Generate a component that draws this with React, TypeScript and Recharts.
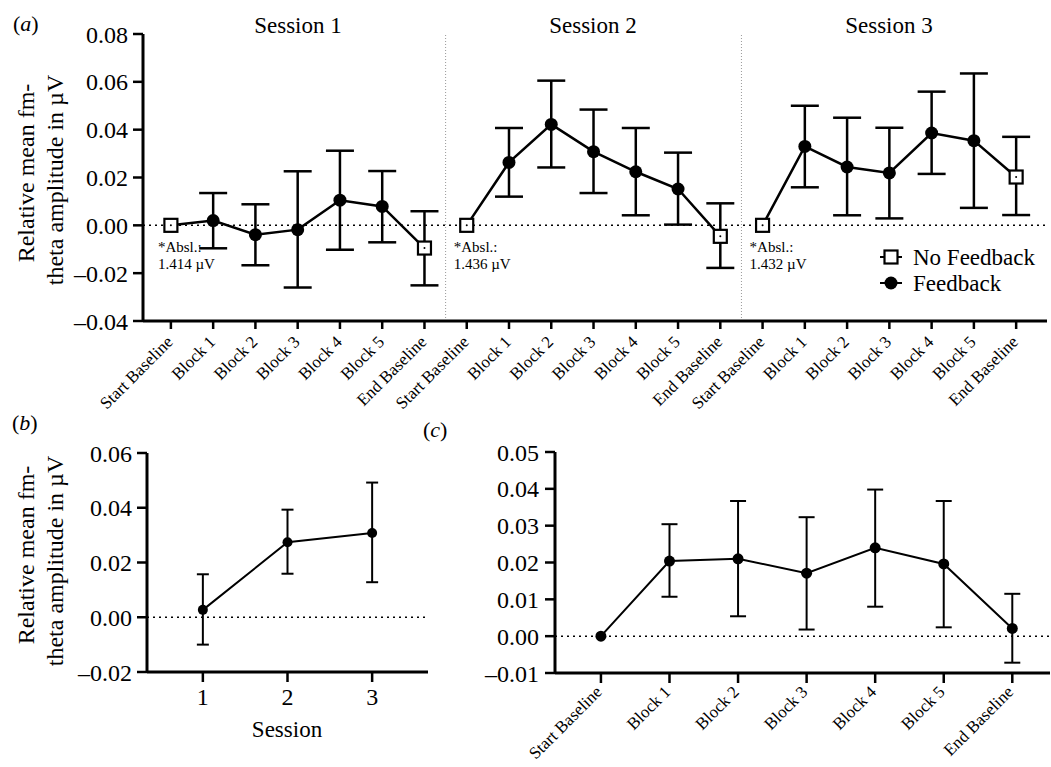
import React from 'react';
import { LineChart, Line, XAxis, YAxis, ReferenceLine, ErrorBar } from 'recharts';

const FONT = '"Liberation Serif", "Times New Roman", serif';

// x categories
const phaseLabels = ['Start Baseline', 'Block 1', 'Block 2', 'Block 3', 'Block 4', 'Block 5', 'End Baseline'];
const sessionNames = ['Session 1', 'Session 2', 'Session 3'];
const abslValues = ['1.414 µV', '1.436 µV', '1.432 µV'];

// panel (a): per session means and error bar ends
const s1Mean = [0, 0.002, -0.0039, -0.0018, 0.0105, 0.0079, -0.0095];
const s1Upper = [null, 0.0135, 0.0088, 0.0226, 0.0312, 0.0227, 0.0059];
const s1Lower = [null, -0.0096, -0.0167, -0.026, -0.0102, -0.0071, -0.0251];

const s2Mean = [0, 0.0263, 0.0422, 0.0308, 0.0224, 0.0152, -0.0046];
const s2Upper = [null, 0.0407, 0.0605, 0.0484, 0.0407, 0.0304, 0.0092];
const s2Lower = [null, 0.012, 0.0242, 0.0135, 0.0042, 0.0003, -0.0178];

const s3Mean = [0, 0.033, 0.0244, 0.0219, 0.0386, 0.0354, 0.0202];
const s3Upper = [null, 0.05, 0.045, 0.0408, 0.0559, 0.0635, 0.037];
const s3Lower = [null, 0.0159, 0.0042, 0.0029, 0.0215, 0.0073, 0.0043];

// panel (b): mean per session
const sessionTicks = [1, 2, 3];
const bMean = [0.0027, 0.0274, 0.0308];
const bUpper = [0.0157, 0.0393, 0.0492];
const bLower = [-0.01, 0.0159, 0.0128];

// panel (c): mean over sessions per phase
const cMean = [0, 0.0204, 0.021, 0.0171, 0.024, 0.0196, 0.0021];
const cUpper = [null, 0.0304, 0.0367, 0.0323, 0.0398, 0.0367, 0.0115];
const cLower = [null, 0.0107, 0.0054, 0.0018, 0.008, 0.0024, -0.0072];

const yTicksA = [-0.04, -0.02, 0, 0.02, 0.04, 0.06, 0.08];
const yTicksB = [-0.02, 0, 0.02, 0.04, 0.06];
const yTicksC = [-0.01, 0, 0.01, 0.02, 0.03, 0.04, 0.05];

const means = [s1Mean, s2Mean, s3Mean];
const uppers = [s1Upper, s2Upper, s3Upper];
const lowers = [s1Lower, s2Lower, s3Lower];

const errOf = (m: number, up: number | null, lo: number | null) =>
  up == null || lo == null ? null : [m - lo, up - m];

const dataA = means.flatMap((ms, s) =>
  ms.map((m, p) => {
    const row: any = { x: s * 7 + p, p, s };
    row[`m${s}`] = m;
    row[`e${s}`] = errOf(m, uppers[s][p], lowers[s][p]);
    return row;
  })
);
const labelsA = dataA.map((d) => phaseLabels[d.p]);
const ticksA = dataA.map((d) => d.x);

const dataB = sessionTicks.map((x, i) => ({ x, m: bMean[i], e: errOf(bMean[i], bUpper[i], bLower[i]) }));
const dataC = phaseLabels.map((_, i) => ({ x: i, m: cMean[i], e: errOf(cMean[i], cUpper[i], cLower[i]) }));
const ticksC = dataC.map((d) => d.x);

const fmtY = (v: number) => (v < -1e-9 ? '–' : '') + Math.abs(v).toFixed(2);

const rotTick = (fontSize: number, dx: number, dy: number, labels: string[]) => (props: any) => {
  const { x, y, payload } = props;
  return (
    <g transform={`translate(${x + dx},${y + dy}) rotate(-45)`}>
      <text textAnchor="end" fontSize={fontSize} fontFamily={FONT} fill="#000">
        {labels[payload.value]}
      </text>
    </g>
  );
};

const dotA = (props: any) => {
  const { cx, cy, payload, index, value } = props;
  if (cx == null || cy == null || value == null) return <g key={`d-${index}`} />;
  const isBase = payload.p === 0 || payload.p === 6;
  if (!isBase) return <circle key={`d-${index}`} cx={cx} cy={cy} r={6.5} fill="#000" />;
  return (
    <g key={`d-${index}`}>
      <rect x={cx - 6.5} y={cy - 6.5} width={13} height={13} fill="#fff" stroke="#000" strokeWidth={2.2} />
      <circle cx={cx} cy={cy} r={1} fill="#000" />
      {payload.p === 0 && (
        <text x={cx - 13} y={cy + 27} fontSize={15} fontFamily={FONT} fill="#000">
          <tspan x={cx - 13}>*Absl.:</tspan>
          <tspan x={cx - 13} dy={17}>{abslValues[payload.s]}</tspan>
        </text>
      )}
    </g>
  );
};

const yTickStyle = { fontSize: 24, fontFamily: FONT, fill: '#000' };
const axisLine = { stroke: '#000', strokeWidth: 3 };
const tickLine = { stroke: '#000', strokeWidth: 2.5 };

const App: React.FC = () => {
  return (
    <div style={{ position: 'absolute', left: 0, top: 0, width: 1051, height: 767, background: '#fff' }}>
      {/* (a) */}
      <div style={{ position: 'absolute', left: 0, top: 0 }}>
        <LineChart width={1051} height={420} data={dataA} margin={{ top: 34, right: 4, left: 0, bottom: 0 }}>
          <XAxis
            type="number"
            dataKey="x"
            domain={[-0.66, 20.73]}
            ticks={ticksA}
            interval={0}
            allowDataOverflow
            height={99}
            tickSize={8}
            tickMargin={2}
            axisLine={axisLine}
            tickLine={tickLine}
            tick={rotTick(17, 3, 12, labelsA)}
          />
          <YAxis
            domain={[-0.04, 0.08]}
            ticks={yTicksA}
            width={143}
            tickSize={10}
            tickMargin={5}
            tickFormatter={fmtY}
            axisLine={axisLine}
            tickLine={tickLine}
            tick={yTickStyle}
            allowDataOverflow
          />
          <ReferenceLine y={0} stroke="#000" strokeWidth={1.5} strokeDasharray="2 4" />
          <ReferenceLine x={6.5} stroke="#999" strokeWidth={1} strokeDasharray="1 2" />
          <ReferenceLine x={13.5} stroke="#999" strokeWidth={1} strokeDasharray="1 2" />
          {[0, 1, 2].map((s) => (
            <Line
              key={s}
              dataKey={`m${s}`}
              stroke="#000"
              strokeWidth={2.5}
              dot={dotA}
              activeDot={false}
              isAnimationActive={false}
            >
              <ErrorBar dataKey={`e${s}`} direction="y" width={14} stroke="#000" strokeWidth={2.5} isAnimationActive={false} />
            </Line>
          ))}
        </LineChart>
      </div>

      {/* (b) */}
      <div style={{ position: 'absolute', left: 0, top: 400 }}>
        <LineChart width={440} height={367} data={dataB} margin={{ top: 53, right: 12, left: 0, bottom: 0 }}>
          <XAxis
            type="number"
            dataKey="x"
            domain={[0.34, 3.66]}
            ticks={sessionTicks}
            interval={0}
            height={95}
            tickSize={10}
            tickMargin={6}
            axisLine={axisLine}
            tickLine={tickLine}
            tick={yTickStyle}
          />
          <YAxis
            domain={[-0.02, 0.06]}
            ticks={yTicksB}
            width={147}
            tickSize={10}
            tickMargin={5}
            tickFormatter={fmtY}
            axisLine={axisLine}
            tickLine={tickLine}
            tick={yTickStyle}
            allowDataOverflow
          />
          <ReferenceLine y={0} stroke="#000" strokeWidth={1.5} strokeDasharray="2 4" />
          <Line
            dataKey="m"
            stroke="#000"
            strokeWidth={2}
            dot={{ r: 5, fill: '#000', stroke: '#000', strokeWidth: 0 }}
            activeDot={false}
            isAnimationActive={false}
          >
            <ErrorBar dataKey="e" direction="y" width={6} stroke="#000" strokeWidth={2} isAnimationActive={false} />
          </Line>
        </LineChart>
      </div>

      {/* (c) */}
      <div style={{ position: 'absolute', left: 400, top: 400 }}>
        <LineChart width={651} height={367} data={dataC} margin={{ top: 52, right: 1, left: 0, bottom: 0 }}>
          <XAxis
            type="number"
            dataKey="x"
            domain={[-0.67, 6.55]}
            ticks={ticksC}
            interval={0}
            allowDataOverflow
            height={94}
            tickSize={10}
            tickMargin={2}
            axisLine={axisLine}
            tickLine={tickLine}
            tick={rotTick(17, 2, 8, phaseLabels)}
          />
          <YAxis
            domain={[-0.01, 0.05]}
            ticks={yTicksC}
            width={155}
            tickSize={10}
            tickMargin={6}
            tickFormatter={fmtY}
            axisLine={axisLine}
            tickLine={tickLine}
            tick={yTickStyle}
            allowDataOverflow
          />
          <ReferenceLine y={0} stroke="#000" strokeWidth={1.5} strokeDasharray="2 4" />
          <Line
            dataKey="m"
            stroke="#000"
            strokeWidth={2}
            dot={{ r: 5.5, fill: '#000', stroke: '#000', strokeWidth: 0 }}
            activeDot={false}
            isAnimationActive={false}
          >
            <ErrorBar dataKey="e" direction="y" width={8} stroke="#000" strokeWidth={2} isAnimationActive={false} />
          </Line>
        </LineChart>
      </div>

      {/* titles, panel letters, axis titles, legend */}
      <svg
        width={1051}
        height={767}
        style={{ position: 'absolute', left: 0, top: 0, pointerEvents: 'none' }}
        fontFamily={FONT}
        fill="#000"
      >
        <text x={13} y={31} fontSize={22}>
          (<tspan fontStyle="italic">a</tspan>)
        </text>
        <text x={12} y={430} fontSize={22}>
          (<tspan fontStyle="italic">b</tspan>)
        </text>
        <text x={423} y={437} fontSize={22}>
          (<tspan fontStyle="italic">c</tspan>)
        </text>

        {sessionNames.map((name, i) => (
          <text key={name} x={[298, 593, 889][i]} y={33} fontSize={23} textAnchor="middle">
            {name}
          </text>
        ))}

        <text transform="translate(34,173) rotate(-90)" textAnchor="middle" fontSize={24}>
          Relative mean fm-
        </text>
        <text transform="translate(63,180) rotate(-90)" textAnchor="middle" fontSize={24}>
          theta amplitude in µV
        </text>
        <text transform="translate(34,555) rotate(-90)" textAnchor="middle" fontSize={24}>
          Relative mean fm-
        </text>
        <text transform="translate(63,561) rotate(-90)" textAnchor="middle" fontSize={24}>
          theta amplitude in µV
        </text>

        <text x={287} y={737} fontSize={23} textAnchor="middle">
          Session
        </text>

        <line x1={880} x2={902} y1={257} y2={257} stroke="#000" strokeWidth={2} />
        <rect x={884.5} y={250.5} width={13} height={13} fill="#fff" stroke="#000" strokeWidth={2.2} />
        <text x={913} y={265} fontSize={23}>
          No Feedback
        </text>
        <line x1={880} x2={902} y1={283} y2={283} stroke="#000" strokeWidth={2} />
        <circle cx={891} cy={283} r={6.5} fill="#000" />
        <text x={913} y={291} fontSize={23}>
          Feedback
        </text>
      </svg>
    </div>
  );
};

export default App;
